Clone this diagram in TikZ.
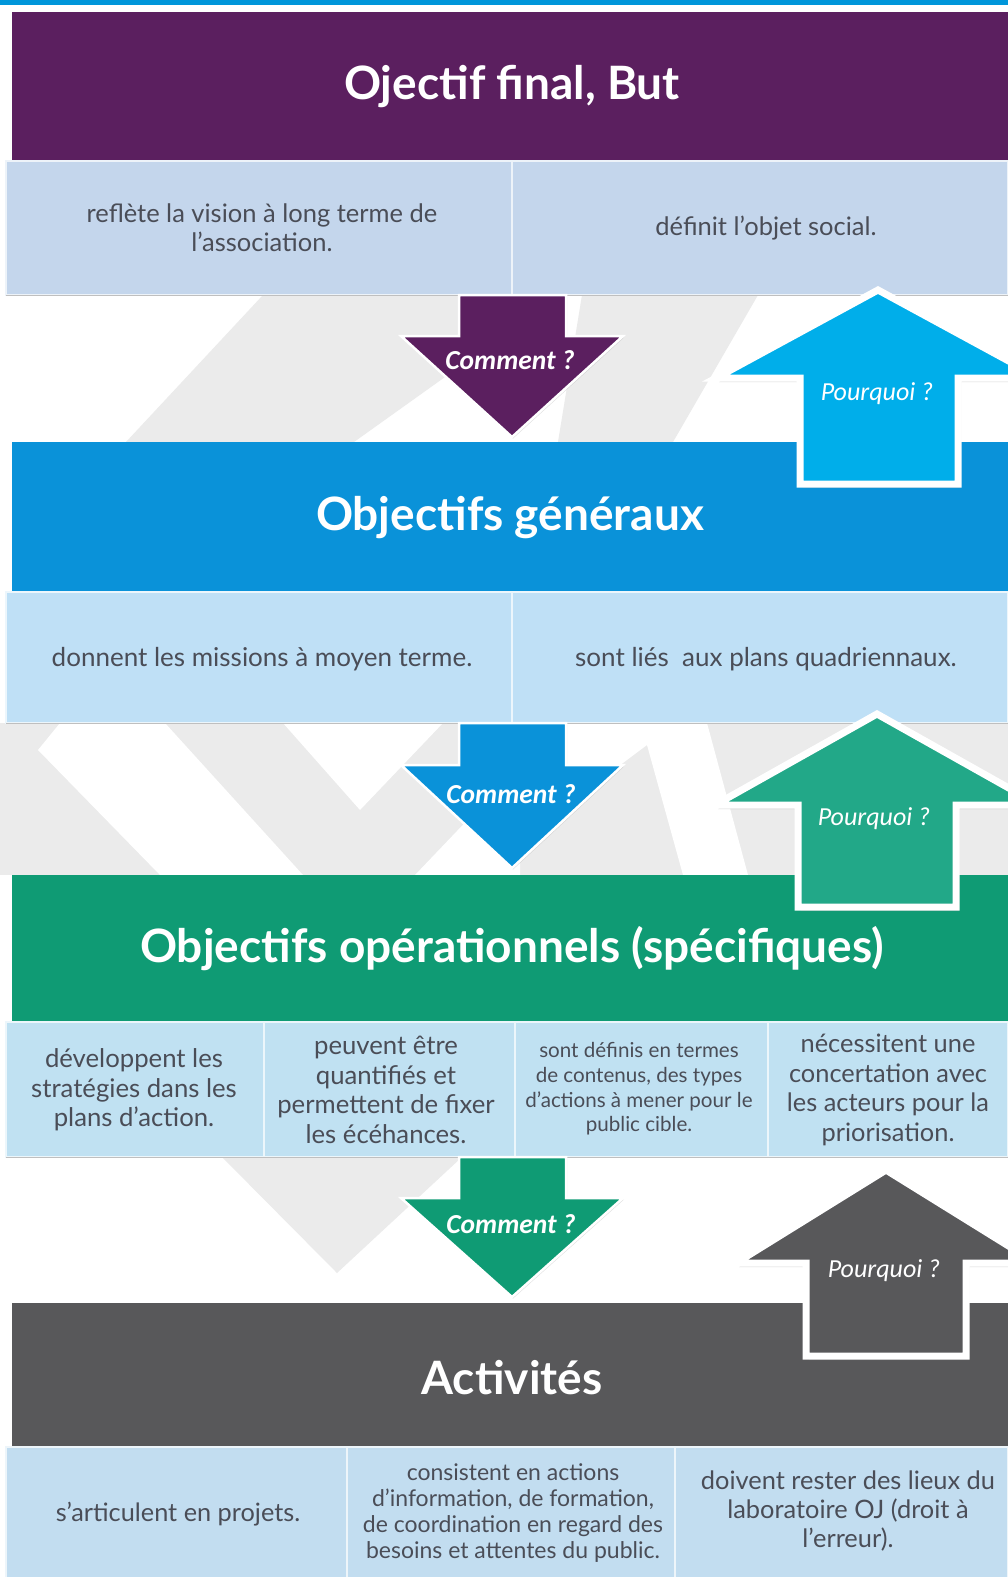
\documentclass[tikz,border=0pt]{standalone}
\usepackage{fontspec}
\setmainfont{Lato}
\newfontfamily\carlito{Carlito}
\usetikzlibrary{shadows}
\definecolor{bandeau}{HTML}{0096DA}
\definecolor{butviolet}{HTML}{5B1F5F}
\definecolor{genbleu}{HTML}{0A92D9}
\definecolor{opvert}{HTML}{0F9B74}
\definecolor{actgris}{HTML}{58585A}
\definecolor{pqcyan}{HTML}{00AEEA}
\definecolor{pqvert}{HTML}{22A888}
\definecolor{fondgris}{HTML}{EBEBEB}
\definecolor{ligne1}{HTML}{C4D6EC}
\definecolor{ligne2}{HTML}{BFE0F6}
\definecolor{ligne3}{HTML}{C0E1F2}
\definecolor{ligne4}{HTML}{C2DDF0}
\definecolor{textgris}{HTML}{4A4D57}
\tikzset{
  titre/.style={text=white, font=\fontsize{46}{54}\selectfont\bfseries},
  texte/.style={text=textgris, align=center, font=\fontsize{25.7}{29.5}\selectfont},
  petit/.style={text=textgris, align=center, font=\fontsize{20.6}{24.7}\selectfont},
  cellule/.style={fill=#1, draw=white!70!#1, line width=1.2pt},
  bord/.style={draw=black!25, line width=1pt},
  comment/.style={fill=#1, draw=white, line width=2.5pt, line join=miter,
    drop shadow={opacity=0.25, shadow xshift=1pt, shadow yshift=-1.5pt}},
  pourquoi/.style={fill=#1, draw=white, line width=7pt, line join=miter,
    drop shadow={opacity=0.3, shadow xshift=3pt, shadow yshift=-4pt}},
  flechec/.style={text=white, font=\carlito\fontsize{27.5}{30}\selectfont\bfseries\itshape},
  flechep/.style={text=white, font=\carlito\fontsize{26}{30}\selectfont\itshape},
}
\begin{document}
\begin{tikzpicture}[x=1pt,y=-1pt]
  % 画像の大きさ
  \useasboundingbox (0,0) rectangle (1008,1577);
  \fill[white] (0,0) rectangle (1008,1577);
  % 上の青い線
  \fill[bandeau] (0,0) rectangle (1008,5);

  % 背景の灰色の帯
  \fill[fondgris] (263,295) -- (480,295) -- (480,352) -- (354,442) -- (126,442) -- cycle;
  \fill[fondgris] (582,295) -- (758,295) -- (673,442) -- (558,442) -- cycle;
  \fill[fondgris] (0,723) rectangle (1008,875);
  \fill[white] (60,723) -- (165,723) -- (303,875) -- (160,875) -- (38,750) -- cycle;
  \fill[white] (283,723) -- (443,723) -- (360,810) -- cycle;
  \fill[white] (415,875) -- (520,875) -- (520,765) -- cycle;
  \fill[white] (560,723) -- (707,723) -- (748,875) -- (683,875) -- (647,745) -- (560,810) -- cycle;
  \fill[fondgris] (222,1157) -- (462,1157) -- (337,1273) -- cycle;

  % 見出し 1
  \fill[butviolet] (12,12) rectangle (1008,161);
  \node[titre] (but) at (512,87) {Ojectif final, But};
  % 行 1
  \path[cellule=ligne1] (6,161) rectangle (512,295);
  \path[cellule=ligne1] (512,161) rectangle (1008,295);
  \draw[bord] (6,295) -- (1008,295);
  \node[texte, font=\fontsize{25.5}{29.2}\selectfont] (vision) at (262,228) {reflète la vision à long terme de\\l'association.};
  \node[texte, font=\fontsize{25.5}{29.2}\selectfont] (objet) at (766,228) {définit l'objet social.};

  % 見出し 2
  \fill[genbleu] (12,442) rectangle (1008,592);
  \node[titre] (generaux) at (510,518) {Objectifs généraux};
  % 行 2
  \path[cellule=ligne2] (6,592) rectangle (512,723);
  \path[cellule=ligne2] (512,592) rectangle (1008,723);
  \draw[bord] (6,723) -- (1008,723);
  \node[texte, font=\fontsize{26}{29.5}\selectfont] (missions) at (262,659) {donnent les missions à moyen terme.};
  \node[texte, font=\fontsize{26}{29.5}\selectfont] (plans) at (766,659) {sont liés~ aux plans quadriennaux.};

  % 見出し 3
  \fill[opvert] (12,875) rectangle (1008,1022);
  \node[titre] (operationnels) at (512,949) {Objectifs opérationnels (spécifiques)};
  % 行 3
  \path[cellule=ligne3] (6,1022) rectangle (264,1157);
  \path[cellule=ligne3] (264,1022) rectangle (515,1157);
  \path[cellule=ligne3] (515,1022) rectangle (768,1157);
  \path[cellule=ligne3] (768,1022) rectangle (1008,1157);
  \draw[bord] (6,1157) -- (1008,1157);
  \node[texte] (strategies) at (134,1090) {développent les\\stratégies dans les\\plans d'action.};
  \node[texte] (echeances) at (386,1090) {peuvent être\\quantifiés et\\permettent de fixer\\les écéhances.};
  \node[petit] (contenus) at (639,1089) {sont définis en termes\\de contenus, des types\\d'actions à mener pour le\\public cible.};
  \node[texte, font=\fontsize{25.4}{29.5}\selectfont] (concertation) at (888,1090) {nécessitent une\\concertation avec\\les acteurs pour la\\priorisation.};

  % 見出し 4
  \fill[actgris] (12,1303) rectangle (1008,1447);
  \node[titre] (activites) at (512,1378) {Activités};
  % 行 4
  \path[cellule=ligne4] (6,1447) rectangle (347,1580);
  \path[cellule=ligne4] (347,1447) rectangle (675,1580);
  \path[cellule=ligne4] (675,1447) rectangle (1008,1580);
  \node[texte, font=\fontsize{25.3}{29}\selectfont] (projets) at (178,1514) {s'articulent en projets.};
  \node[texte, font=\fontsize{23}{26.2}\selectfont] (actions) at (513,1513) {consistent en actions\\d'information, de formation,\\de coordination en regard des\\besoins et attentes du public.};
  \node[texte, font=\fontsize{25.4}{29.2}\selectfont] (laboratoire) at (848,1511) {doivent rester des lieux du\\laboratoire OJ (droit à\\l'erreur).};

  % 下向きの矢印 (Comment ?)
  \path[comment=butviolet] (459,295) -- (566,295) -- (566,336) -- (623,336) -- (512,437) -- (401,336) -- (459,336) -- cycle;
  \node[flechec] (comment1) at (510,360) {Comment ?};
  \path[comment=genbleu] (459,723) -- (566,723) -- (566,765) -- (623,765) -- (512,868) -- (401,765) -- (459,765) -- cycle;
  \node[flechec] (comment2) at (511,794) {Comment ?};
  \path[comment=opvert] (459,1157) -- (566,1157) -- (566,1198) -- (623,1198) -- (512,1297) -- (401,1198) -- (459,1198) -- cycle;
  \node[flechec] (comment3) at (511,1224) {Comment ?};

  % 上向きの矢印 (Pourquoi ?)
  \path[pourquoi=pqcyan] (878,290) -- (1040,378) -- (958,378) -- (958,484) -- (800,484) -- (800,378) -- (716,378) -- cycle;
  \node[flechep] (pourquoi1) at (877,394) {Pourquoi ?};
  \path[pourquoi=pqvert] (877,714) -- (1039,805) -- (956,805) -- (956,907) -- (798,907) -- (798,805) -- (715,805) -- cycle;
  \node[flechep] (pourquoi2) at (874,819) {Pourquoi ?};
  \path[pourquoi=actgris] (886,1170) -- (1036,1263) -- (966,1263) -- (966,1356) -- (806,1356) -- (806,1263) -- (736,1263) -- cycle;
  \node[flechep] (pourquoi3) at (884,1271) {Pourquoi ?};
\end{tikzpicture}
\end{document}
